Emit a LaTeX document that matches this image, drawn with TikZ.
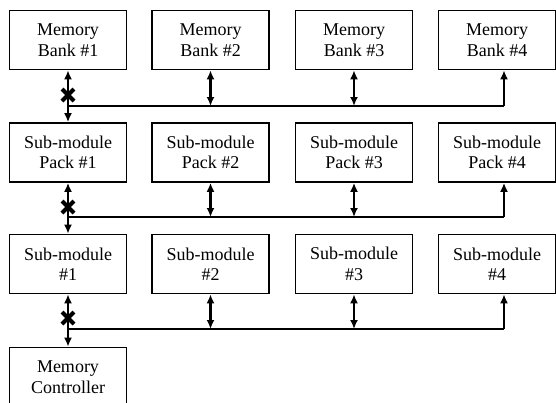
\documentclass[tikz,border=0pt]{standalone}
\usepackage{fontspec}
\setmainfont{Liberation Serif}
\usetikzlibrary{arrows.meta}
\begin{document}
\begin{tikzpicture}[x=1pt,y=-1pt,
  box/.style={draw,line width=1.7pt,minimum width=117pt,minimum height=59pt,inner sep=0pt,align=center,font=\fontsize{18}{20.5}\selectfont},
  link/.style={line width=2.3pt},
  dbl/.style={link,{Latex[length=9pt,width=8pt]}-{Latex[length=9pt,width=8pt]}},
  one/.style={link,-{Latex[length=9pt,width=8pt]}},
  xmark/.style={line width=4pt}]
\clip (0,0) rectangle (556,402);
\useasboundingbox (0,0) rectangle (556,402);
% row 1
\node[box] (b1) at (68,40) {Memory\\Bank \#1};
\node[box] (b2) at (210.5,40) {Memory\\Bank \#2};
\node[box] (b3) at (354,40) {Memory\\Bank \#3};
\node[box] (b4) at (497,40) {Memory\\Bank \#4};
% row 2
\node[box] (p1) at (68,152.5) {Sub-module\\Pack \#1};
\node[box] (p2) at (210.5,152.5) {Sub-module\\Pack \#2};
\node[box] (p3) at (354,152.5) {Sub-module\\Pack \#3};
\node[box] (p4) at (497,152.5) {Sub-module\\Pack \#4};
% row 3
\node[box] (s1) at (68,264) {Sub-module\\\#1};
\node[box] (s2) at (210.5,264) {Sub-module\\\#2};
\node[box] (s3) at (354,264) {Sub-module\\\#3};
\node[box] (s4) at (497,264) {Sub-module\\\#4};
% controller
\node[box] (mc) at (68,377) {Memory\\Controller};
% bus coordinates
\coordinate (j1) at (68,106);
\coordinate (k1) at (504,106);
\coordinate (j2) at (68,217);
\coordinate (k2) at (504,217);
\coordinate (j3) at (68,329);
\coordinate (k3) at (504,329);
\coordinate (x1) at (68,95);
\coordinate (x2) at (68,207);
\coordinate (x3) at (68,318);
% bus 1
\draw[dbl] (b1) -- (p1);
\draw[link] (j1) -- (k1);
\draw[dbl] (b2) -- (b2 |- j1);
\draw[dbl] (b3) -- (b3 |- j1);
\draw[one] (k1) -- (k1 |- b4.south);
% bus 2
\draw[dbl] (p1) -- (s1);
\draw[link] (j2) -- (k2);
\draw[dbl] (p2) -- (p2 |- j2);
\draw[dbl] (p3) -- (p3 |- j2);
\draw[one] (k2) -- (k2 |- p4.south);
% bus 3
\draw[dbl] (s1) -- (mc);
\draw[link] (j3) -- (k3);
\draw[dbl] (s2) -- (s2 |- j3);
\draw[dbl] (s3) -- (s3 |- j3);
\draw[one] (k3) -- (k3 |- s4.south);
% X marks
\foreach \c in {x1,x2,x3}{
  \draw[xmark] ([shift={(-6,-6)}]\c) -- ([shift={(6,6)}]\c);
  \draw[xmark] ([shift={(-6,6)}]\c) -- ([shift={(6,-6)}]\c);
}
\end{tikzpicture}
\end{document}
